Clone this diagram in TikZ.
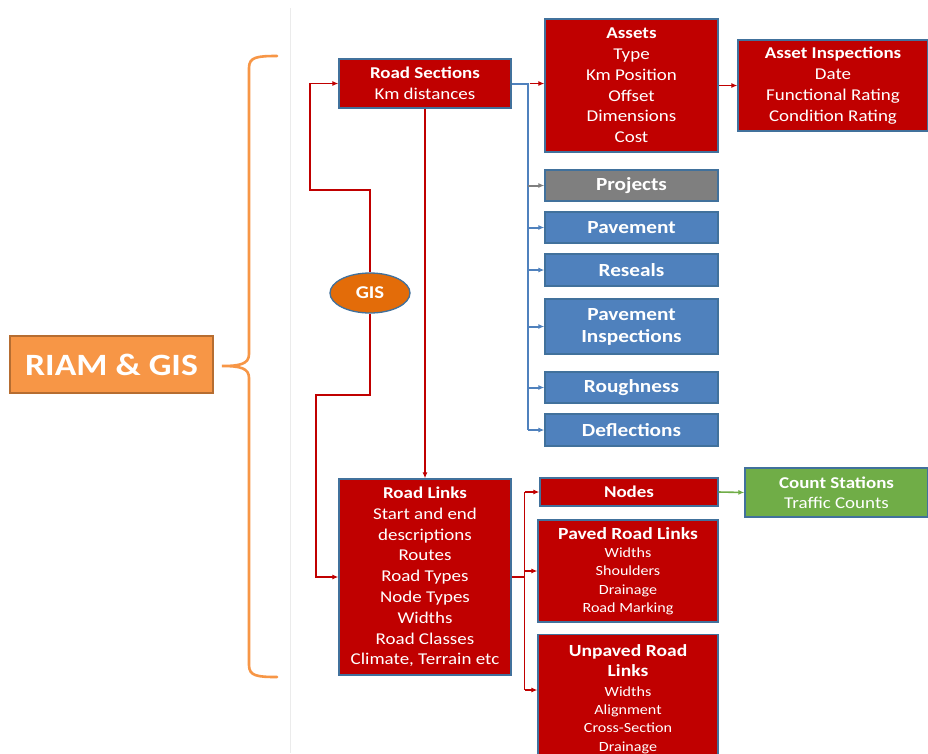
\documentclass[tikz,border=0pt]{standalone}
\usepackage{fontspec}
\setmainfont{Carlito}[FakeStretch=1.15]
\usetikzlibrary{arrows.meta,shapes.geometric}
\definecolor{boxred}{HTML}{C00000}
\definecolor{bord}{HTML}{41719C}
\definecolor{boxblue}{HTML}{4F81BD}
\definecolor{boxgray}{HTML}{7F7F7F}
\definecolor{boxgreen}{HTML}{70AD47}
\definecolor{riam}{HTML}{F79646}
\definecolor{riambord}{HTML}{B66D31}
\definecolor{gisor}{HTML}{E36C09}
\definecolor{sep}{HTML}{EBEBEB}
\tikzset{
  basebox/.style={draw=bord, line width=1.3pt, text=white, align=center, inner sep=0pt, anchor=center},
  redbox/.style={basebox, fill=boxred, font=\fontsize{16.5}{20.8}\selectfont},
  smallred/.style={basebox, fill=boxred, font=\fontsize{14}{18.3}\selectfont},
  bluebox/.style={basebox, fill=boxblue, font=\fontsize{18.5}{22}\selectfont\bfseries},
  graybox/.style={basebox, fill=boxgray, font=\fontsize{18.5}{22}\selectfont\bfseries},
  greenbox/.style={basebox, fill=boxgreen, font=\fontsize{16.5}{20.5}\selectfont},
  redline/.style={draw=boxred, line width=1.6pt},
  blueline/.style={draw=boxblue, line width=2pt},
  redarrow/.style={redline, -{Latex[length=6pt,width=5pt]}},
  bluearrow/.style={blueline, -{Latex[length=6pt,width=5pt]}},
  grayarrow/.style={draw=boxgray, line width=2pt, -{Latex[length=6pt,width=5pt]}},
  greenarrow/.style={draw=boxgreen, line width=1.6pt, -{Latex[length=6pt,width=5pt]}},
}
\begin{document}
\begin{tikzpicture}[x=1pt,y=-1pt]
\useasboundingbox (0,0) rectangle (928,753);
\clip (0,0) rectangle (928,753);
\fill[white] (0,0) rectangle (928,753);
% separator
\draw[sep, line width=1pt] (290,8) -- (290,753);

% RIAM box and brace
\node[draw=riambord, fill=riam, line width=1.5pt, text=white, minimum width=203pt, minimum height=57pt, inner sep=0pt,
  font=\fontsize{31}{36}\selectfont\bfseries] (riam) at (111.5,364.5) {RIAM \& GIS};
\draw[riam, line width=2.6pt, line cap=round]
  (277,56) .. controls (257,56) and (249,57) .. (249,68)
  -- (249,354) .. controls (249,364) and (240,366) .. (222,366)
  .. controls (240,366) and (249,368) .. (249,378)
  -- (249,665) .. controls (249,676) and (257,677) .. (277,677);

% top group
\node[redbox, minimum width=172pt, minimum height=49pt] (rs) at (425,83.5) {\textbf{Road Sections}\\Km distances};
\node[redbox, minimum width=173pt, minimum height=133pt] (assets) at (631.5,85.5)
  {\textbf{Assets}\\Type\\Km Position\\Offset\\Dimensions\\Cost};
\node[redbox, minimum width=190pt, minimum height=91pt] (ainsp) at (833,85.5)
  {\textbf{Asset Inspections}\\Date\\Functional Rating\\Condition Rating};
\node[graybox, minimum width=173pt, minimum height=31pt] (proj) at (631.5,185.5) {Projects};
\node[bluebox, minimum width=173pt, minimum height=31pt] (pave) at (631.5,227.5) {Pavement};
\node[bluebox, minimum width=173pt, minimum height=32pt] (res) at (631.5,270) {Reseals};
\node[bluebox, minimum width=173pt, minimum height=55pt] (pinsp) at (631.5,326.5) {Pavement\\Inspections};
\node[bluebox, minimum width=173pt, minimum height=31pt] (rough) at (631.5,387.5) {Roughness};
\node[bluebox, minimum width=173pt, minimum height=32pt] (defl) at (631.5,430) {Deflections};

% GIS
\node[ellipse, draw=bord, line width=1.3pt, fill=gisor, text=white, minimum width=80pt, minimum height=40pt, inner sep=0pt,
  font=\fontsize{18}{20}\selectfont\bfseries] (gis) at (370,293) {GIS};

% bottom group
\node[redbox, minimum width=172pt, minimum height=196pt] (rl) at (425,577)
  {\textbf{Road Links}\\Start and end\\descriptions\\Routes\\Road Types\\Node Types\\Widths\\Road Classes\\Climate, Terrain etc};
\node[redbox, minimum width=178pt, minimum height=28pt] (nodes) at (629,492) {\textbf{Nodes}};
\node[smallred, minimum width=180pt, minimum height=102pt] (paved) at (628,571)
  {{\fontsize{17}{19}\selectfont\textbf{Paved Road Links}}\\Widths\\Shoulders\\Drainage\\Road Marking};
\node[smallred, minimum width=180pt, minimum height=150pt, anchor=north] (unpaved) at (628,634) {};
\node[smallred, draw=none, anchor=north, text width=170pt] (unpavedtxt) at (628,644)
  {{\fontsize{17}{20.5}\selectfont\textbf{Unpaved Road}}\\[2pt]{\fontsize{17}{20.5}\selectfont\textbf{Links}}\\[1pt]Widths\\Alignment\\Cross-Section\\Drainage};
\node[greenbox, minimum width=183pt, minimum height=49pt] (count) at (836.5,492.5) {\textbf{Count Stations}\\Traffic Counts};

% connectors: blue trunk
\coordinate (bt) at ([xshift=16pt]rs.east);
\draw[blueline] (rs.east) -- (bt) -- (bt |- defl.west);
\draw[redarrow] ([xshift=2pt]bt) -- (assets.west |- bt);
\draw[grayarrow] (bt |- proj.west) -- (proj.west);
\draw[bluearrow] (bt |- pave.west) -- (pave.west);
\draw[bluearrow] (bt |- res.west) -- (res.west);
\draw[bluearrow] (bt |- pinsp.west) -- (pinsp.west);
\draw[bluearrow] (bt |- rough.west) -- (rough.west);
\draw[bluearrow] (bt |- defl.west) -- (defl.west);
\draw[redarrow] (assets.east |- ainsp.west) -- (ainsp.west);

% GIS connectors
\coordinate (g1) at (310,190);
\coordinate (g2) at (316,395);
\draw[redarrow] (gis.north) |- (g1) |- (rs.west);
\draw[redarrow] (gis.south) |- (g2) |- (rl.west);
\draw[redarrow] (rs.south) -- (rl.north);

% Road links connectors
\coordinate (lt) at ([xshift=13pt]rl.east);
\draw[redline] (rl.east) -- (lt);
\draw[redline] (lt |- nodes.west) -- (lt |- 0,690);
\draw[redarrow] (lt |- nodes.west) -- (nodes.west);
\draw[redarrow] (lt |- paved.west) -- (paved.west);
\draw[redarrow] (lt |- 0,690) -- (unpaved.west |- 0,690);
\draw[greenarrow] (nodes.east) -- (count.west);
\end{tikzpicture}
\end{document}
